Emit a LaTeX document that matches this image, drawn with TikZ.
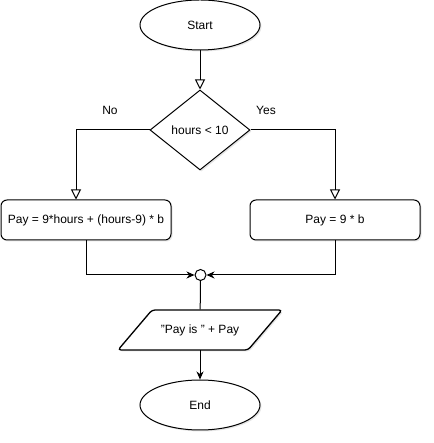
\documentclass[tikz,border=0pt]{standalone}
\usepackage{fontspec}
\setmainfont{Liberation Sans}
\usetikzlibrary{shapes.geometric, arrows.meta, shadows}
\begin{document}
\begin{tikzpicture}[x=1pt, y=1pt, line width=1pt, font=\fontsize{12}{14}\selectfont,
  shade/.style={drop shadow={shadow xshift=1.5pt, shadow yshift=-1.5pt, opacity=0.2}},
  term/.style={ellipse, draw, fill=white, shade, minimum width=120pt, minimum height=50pt, inner sep=0pt},
  decide/.style={diamond, draw, fill=white, shade, minimum width=100pt, minimum height=80pt, aspect=1.25, inner sep=0pt},
  proc/.style={rectangle, draw, fill=white, shade, rounded corners=6pt, minimum width=170pt, minimum height=40pt},
  iobox/.style={draw, fill=white, shade, line width=1.3pt, rounded corners=3pt},
  openarr/.style={-{Triangle[open, length=10pt, width=10pt]}},
  fullarr/.style={-{Stealth[length=8pt, width=7pt, inset=2.5pt]}}]
\useasboundingbox (0,0) rectangle (433,443);

\node[term] (start) at (200, 418) {Start};
\node[decide] (test) at (200, 313) {hours < 10};
\node[proc] (payno) at (86, 223) {Pay = 9*hours + (hours-9) * b};
\node[proc] (payyes) at (335, 223) {Pay = 9 * b};
\node[circle, draw, fill=white, minimum size=11pt, inner sep=0pt] (join) at (200.5, 168) {};
% parallelogram
\draw[iobox] (118, 93) -- (248, 93) -- (282, 133) -- (152, 133) -- cycle;
\node[minimum width=130pt, minimum height=40pt, inner sep=0pt] (out) at (200, 113) {"Pay is " + Pay};
\node[term] (stop) at (200, 38) {End};

\node at (110, 333) {No};
\node at (266, 333) {Yes};

\draw[openarr] (start) -- (test);
\draw[openarr] (test.west) -| ([xshift=-10pt]payno.north);
\draw[openarr] (test.east) -| (payyes.north);
\draw[fullarr] (payno.south) |- (join.west);
\draw[fullarr] (payyes.south) |- (join.east);
\draw (join) -- (out);
\draw[fullarr] (out) -- (stop);
\end{tikzpicture}
\end{document}
